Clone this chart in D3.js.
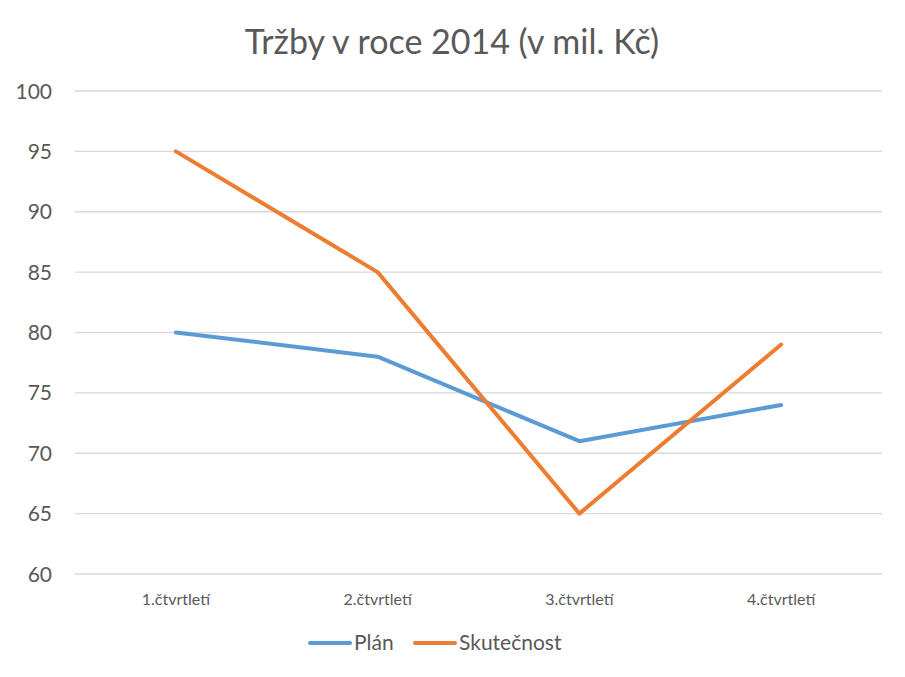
<!DOCTYPE html>
<html>
<head>
<meta charset="utf-8">
<script src="https://cdn.jsdelivr.net/npm/d3@7"></script>
<style>
  body { margin: 0; background: #fff; }
  text { font-family: Lato, "Open Sans", sans-serif; fill: #595959; }
</style>
</head>
<body>
<svg id="chart" width="905" height="677"></svg>
<script>
const categories = ["1.čtvrtletí", "2.čtvrtletí", "3.čtvrtletí", "4.čtvrtletí"];
const plan = [80, 78, 71, 74];
const actual = [95, 85, 65, 79];
const yTicks = [60, 65, 70, 75, 80, 85, 90, 95, 100];
const seriesNames = ["Plán", "Skutečnost"];
const colors = ["#5B9BD5", "#ED7D31"];

const svg = d3.select("#chart"),
    plotLeft = 75, plotRight = 882, plotTop = 91, plotBottom = 574;

const x = d3.scaleBand().domain(categories).range([plotLeft, plotRight]);
const y = d3.scaleLinear().domain([60, 100]).range([plotBottom, plotTop]);

svg.append("text")
    .attr("x", 452).attr("y", 54)
    .attr("text-anchor", "middle")
    .style("font-size", "34px")
    .text("Tržby v roce 2014 (v mil. Kč)");

// gridlines
svg.selectAll(".grid")
  .data(yTicks)
  .enter().append("line")
    .attr("x1", plotLeft).attr("x2", plotRight)
    .attr("y1", d => y(d)).attr("y2", d => y(d))
    .attr("stroke", "#d9d9d9").attr("stroke-width", 1.3);

// y labels
svg.selectAll(".ylab")
  .data(yTicks)
  .enter().append("text")
    .attr("x", 52).attr("y", d => y(d) + 7.5)
    .attr("text-anchor", "end")
    .style("font-size", "21px")
    .text(d => d);

// x labels
svg.selectAll(".xlab")
  .data(categories)
  .enter().append("text")
    .attr("x", d => x(d) + x.bandwidth() / 2)
    .attr("y", 605)
    .attr("text-anchor", "middle")
    .style("font-size", "16px")
    .text(d => d);

const line = d3.line()
    .x((d, i) => x(categories[i]) + x.bandwidth() / 2)
    .y(d => y(d));

[plan, actual].forEach(function(s, i) {
  svg.append("path")
      .attr("d", line(s))
      .attr("fill", "none")
      .attr("stroke", colors[i])
      .attr("stroke-width", 4)
      .attr("stroke-linejoin", "round")
      .attr("stroke-linecap", "round");
});

// legend
const legendX = [310, 415];
seriesNames.forEach(function(name, i) {
  svg.append("line")
      .attr("x1", legendX[i]).attr("x2", legendX[i] + 40)
      .attr("y1", 643).attr("y2", 643)
      .attr("stroke", colors[i]).attr("stroke-width", 4)
      .attr("stroke-linecap", "round");
  svg.append("text")
      .attr("x", legendX[i] + 44).attr("y", 650)
      .style("font-size", "21px")
      .text(name);
});
</script>
</body>
</html>
